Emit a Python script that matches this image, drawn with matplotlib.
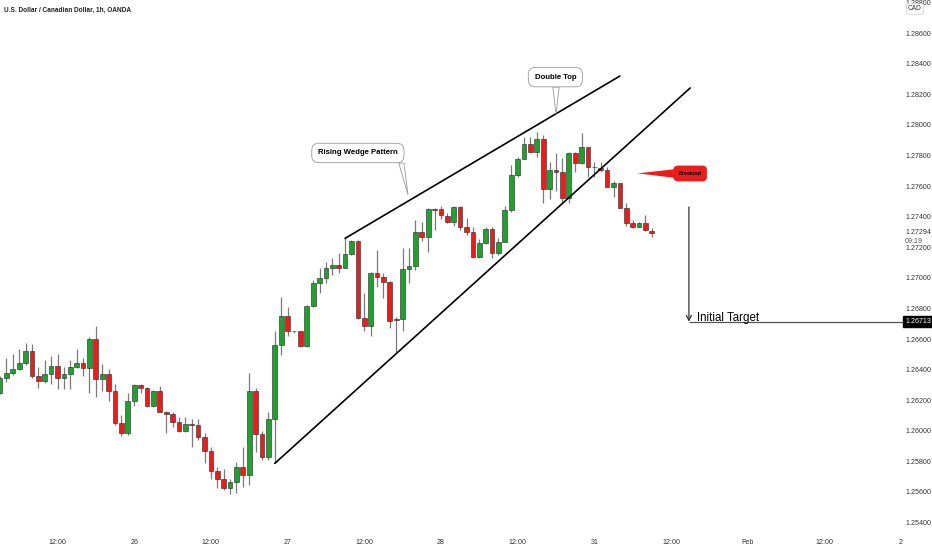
import numpy as np
import matplotlib
matplotlib.use("Agg")
import matplotlib.pyplot as plt
from matplotlib import font_manager
from matplotlib.patches import Polygon

# hourly USDCAD bars, bar 0 = Jan 25 12:00
bar_start = -9
opens = [1.26249, 1.26347, 1.26380, 1.26402, 1.26441, 1.26524, 1.26358, 1.26327, 1.26371,
         1.26425, 1.26347, 1.26371, 1.26415, 1.26441, 1.26408, 1.26598, 1.26336, 1.26371,
         1.26262, 1.26049, 1.25983, 1.26195, 1.26299, 1.26277, 1.26162, 1.26260, 1.26125,
         1.26107, 1.26060, 1.26001, 1.26042, 1.26038, 1.25961, 1.25870, 1.25737, 1.25682,
         1.25624, 1.25663, 1.25761, 1.25711, 1.26260, 1.25979, 1.25827, 1.26077, 1.26561,
         1.26750, 1.26652, 1.26652, 1.26554, 1.26816, 1.26964, 1.26997, 1.27062, 1.27084,
         1.27066, 1.27156, 1.27241, 1.26739, 1.26687, 1.27029, 1.27007, 1.26975, 1.26728,
         1.26728, 1.27055, 1.27077, 1.27301, 1.27264, 1.27447, 1.27447, 1.27404, 1.27367,
         1.27465, 1.27334, 1.27301, 1.27134, 1.27230, 1.27319, 1.27164, 1.27236, 1.27443,
         1.27672, 1.27774, 1.27875, 1.27824, 1.27907, 1.27578, 1.27705, 1.27689, 1.27524,
         1.27818, 1.27748, 1.27853, 1.27726, 1.27720, 1.27705, 1.27591, 1.27622, 1.27454,
         1.27360, 1.27334, 1.27360, 1.27306]
highs = [1.26355, 1.26473, 1.26500, 1.26532, 1.26571, 1.26567, 1.26419, 1.26463, 1.26489,
         1.26502, 1.26419, 1.26463, 1.26532, 1.26478, 1.26615, 1.26685, 1.26436, 1.26402,
         1.26306, 1.26103, 1.26249, 1.26306, 1.26306, 1.26288, 1.26266, 1.26293, 1.26131,
         1.26125, 1.26088, 1.26092, 1.26075, 1.26075, 1.25983, 1.25896, 1.25761, 1.25748,
         1.25682, 1.25798, 1.25896, 1.26375, 1.26277, 1.26001, 1.26121, 1.26652, 1.26872,
         1.26807, 1.26655, 1.26655, 1.26822, 1.26986, 1.27062, 1.27106, 1.27127, 1.27160,
         1.27258, 1.27247, 1.27247, 1.26903, 1.27035, 1.27182, 1.27029, 1.26979, 1.26746,
         1.27193, 1.27193, 1.27378, 1.27367, 1.27454, 1.27454, 1.27469, 1.27421, 1.27469,
         1.27469, 1.27389, 1.27330, 1.27251, 1.27330, 1.27334, 1.27258, 1.27469, 1.27737,
         1.27792, 1.27923, 1.27923, 1.27955, 1.27933, 1.27760, 1.27818, 1.27781, 1.27824,
         1.27824, 1.27944, 1.27853, 1.27759, 1.27759, 1.27726, 1.27635, 1.27622, 1.27487,
         1.27378, 1.27367, 1.27410, 1.27323]
lows = [1.26240, 1.26321, 1.26364, 1.26397, 1.26430, 1.26343, 1.26277, 1.26310, 1.26306,
        1.26271, 1.26271, 1.26271, 1.26412, 1.26358, 1.26249, 1.26219, 1.26262, 1.26197,
        1.26038, 1.25966, 1.25972, 1.26162, 1.26249, 1.26153, 1.26153, 1.26125, 1.25983,
        1.26022, 1.25994, 1.25994, 1.25896, 1.25940, 1.25787, 1.25682, 1.25624, 1.25613,
        1.25587, 1.25595, 1.25634, 1.25645, 1.25863, 1.25810, 1.25810, 1.25787, 1.26495,
        1.26620, 1.26640, 1.26550, 1.26550, 1.26812, 1.26903, 1.26964, 1.27018, 1.27029,
        1.27066, 1.27150, 1.26728, 1.26655, 1.26622, 1.26942, 1.26866, 1.26670, 1.26517,
        1.26655, 1.26968, 1.27050, 1.27243, 1.27171, 1.27312, 1.27382, 1.27356, 1.27338,
        1.27312, 1.27280, 1.27130, 1.27127, 1.27221, 1.27127, 1.27149, 1.27236, 1.27432,
        1.27661, 1.27774, 1.27818, 1.27792, 1.27491, 1.27513, 1.27570, 1.27491, 1.27491,
        1.27694, 1.27742, 1.27661, 1.27661, 1.27694, 1.27591, 1.27530, 1.27454, 1.27339,
        1.27323, 1.27330, 1.27308, 1.27269]
closes = [1.26343, 1.26380, 1.26402, 1.26441, 1.26524, 1.26358, 1.26327, 1.26371, 1.26425,
          1.26347, 1.26371, 1.26415, 1.26441, 1.26408, 1.26598, 1.26336, 1.26371, 1.26262,
          1.26049, 1.25983, 1.26195, 1.26299, 1.26277, 1.26162, 1.26260, 1.26125, 1.26107,
          1.26060, 1.26001, 1.26042, 1.26036, 1.25961, 1.25870, 1.25737, 1.25682, 1.25624,
          1.25663, 1.25761, 1.25711, 1.26260, 1.25979, 1.25827, 1.26077, 1.26561, 1.26750,
          1.26652, 1.26650, 1.26554, 1.26816, 1.26964, 1.26997, 1.27062, 1.27084, 1.27066,
          1.27156, 1.27241, 1.26739, 1.26687, 1.27029, 1.27007, 1.26975, 1.26720, 1.26725,
          1.27055, 1.27077, 1.27301, 1.27264, 1.27447, 1.27445, 1.27410, 1.27367, 1.27465,
          1.27334, 1.27301, 1.27134, 1.27230, 1.27319, 1.27164, 1.27236, 1.27443, 1.27672,
          1.27774, 1.27875, 1.27824, 1.27905, 1.27578, 1.27705, 1.27690, 1.27524, 1.27818,
          1.27748, 1.27853, 1.27726, 1.27724, 1.27705, 1.27596, 1.27622, 1.27454, 1.27360,
          1.27334, 1.27360, 1.27312, 1.27294]

time_ticks = list(range(0, 133, 12))
time_labels = ["12:00", "26", "12:00", "27", "12:00", "28", "12:00", "31",
               "12:00", "Feb", "12:00", "2"]
price_ticks = np.arange(1.254, 1.2881, 0.002)

last_price = 1.27294
countdown = "09:19"
target_price = 1.26713

# drawings: (bar, price) pairs
wedge_upper = [(45, 1.27258), (88.0, 1.28319)]
wedge_lower = [(34, 1.25787), (99.0, 1.28241)]
target_arrow_x = 98.8
target_arrow_top = 1.27463

names = {f.name for f in font_manager.fontManager.ttflist}
narrow = "Liberation Sans Narrow" if "Liberation Sans Narrow" in names else "Liberation Sans"
plt.rcParams["font.family"] = [narrow, "DejaVu Sans"]

green = "#1fa12f"
red = "#ea1c1c"

fig = plt.figure(figsize=(9.32, 5.5), dpi=100)
ax = fig.add_axes([0, 17 / 550, 903 / 932, 533 / 550])
ax.set_xlim(-9.0, 132.3)
ax.set_ylim(1.25332, 1.28816)

x = np.arange(bar_start, bar_start + len(opens))
o = np.array(opens)
c = np.array(closes)
up = c >= o
ax.vlines(x, lows, highs, color="#7a7a7a", lw=0.9, zorder=2)
ax.bar(x, np.abs(c - o), bottom=np.minimum(o, c), width=0.74,
       color=np.where(up, green, red), edgecolor="#262626", linewidth=0.4, zorder=3)

# rising wedge
for line in (wedge_upper, wedge_lower):
    (x0, y0), (x1, y1) = line
    ax.plot([x0, x1], [y0, y1], color="black", lw=1.2, zorder=4, solid_capstyle="round")

# callouts
grey = "#9a9a9a"
ax.add_patch(Polygon([(53.4, 1.27750), (54.85, 1.27541), (54.2, 1.27750)],
                     closed=True, fc="white", ec=grey, lw=0.6, zorder=5))
ax.text(47.0, 1.27816, "Rising Wedge Pattern", fontsize=5.6, fontweight="bold",
        family=["Liberation Sans", "DejaVu Sans"], ha="center", va="center", zorder=6,
        bbox=dict(boxstyle="round,pad=0.8,rounding_size=0.9", fc="white", ec=grey, lw=0.6))
ax.add_patch(Polygon([(77.5, 1.28247), (78.0, 1.28071), (78.5, 1.28247)],
                     closed=True, fc="white", ec=grey, lw=0.6, zorder=5))
ax.text(77.9, 1.28312, "Double Top", fontsize=5.6, fontweight="bold",
        family=["Liberation Sans", "DejaVu Sans"], ha="center", va="center", zorder=6,
        bbox=dict(boxstyle="round,pad=0.8,rounding_size=0.9", fc="white", ec=grey, lw=0.6))

ax.add_patch(Polygon([(90.8, 1.27683), (96.8, 1.27711), (96.8, 1.27652)],
                     closed=True, fc=red, ec="none", zorder=5))
ax.text(99.0, 1.27682, "Breakout", fontsize=3.8, fontweight="bold",
        family=["Liberation Sans", "DejaVu Sans"], ha="center", va="center", zorder=6,
        bbox=dict(boxstyle="round,pad=0.95,rounding_size=0.8", fc=red, ec=red, lw=0.5))

# target projection
ax.annotate("", xy=(target_arrow_x, target_price), xytext=(target_arrow_x, target_arrow_top),
            arrowprops=dict(arrowstyle="->", color="#333333", lw=0.9, mutation_scale=9,
                            shrinkA=0, shrinkB=0), zorder=4)
ax.hlines(target_price, target_arrow_x, 132.3, color="#555555", lw=0.9, zorder=4)
ax.text(100.1, target_price + 0.00008, "Initial Target", fontsize=8.3, color="black",
        ha="left", va="baseline", zorder=6)

# axes styling
for s in ax.spines.values():
    s.set_visible(False)
ax.yaxis.tick_right()
ax.set_yticks(price_ticks)
ax.set_yticklabels([f"{p:.5f}" for p in price_ticks])
ax.set_xticks(time_ticks)
ax.set_xticklabels(time_labels)
ax.tick_params(axis="both", length=0, labelsize=5.1, labelcolor="#333333")
ax.tick_params(axis="y", pad=1.5)
ax.tick_params(axis="x", pad=4)

ax.annotate(f"{target_price:.5f}", xy=(1, target_price), xycoords=("axes fraction", "data"),
            xytext=(1.5, 0), textcoords="offset points", ha="left", va="center",
            fontsize=5.1, color="white", annotation_clip=False, zorder=7,
            bbox=dict(boxstyle="square,pad=0.3", fc="black", ec="black"))
ax.annotate(f"{last_price:.5f}", xy=(1, last_price), xycoords=("axes fraction", "data"),
            xytext=(1.5, 0), textcoords="offset points", ha="left", va="center",
            fontsize=5.1, color="#333333", annotation_clip=False, zorder=7)
ax.annotate(countdown, xy=(1, last_price), xycoords=("axes fraction", "data"),
            xytext=(1.5, -6), textcoords="offset points", ha="left", va="center",
            fontsize=5.1, color="#555555", annotation_clip=False, zorder=7,
            bbox=dict(boxstyle="square,pad=0.1", fc="white", ec="none"))

fig.text(915 / 932, 1 - 9 / 550, "CAD", fontsize=4.8, color="#333333", ha="center",
         va="center", zorder=8,
         bbox=dict(boxstyle="round,pad=0.25", fc="white", ec="#cccccc", lw=0.5))
fig.text(4 / 932, 1 - 10 / 550, "U.S. Dollar / Canadian Dollar, 1h, OANDA", fontsize=4.7,
         fontweight="bold", color="#222222", ha="left", va="center")

fig.savefig("out.png", dpi=100, facecolor="white")
